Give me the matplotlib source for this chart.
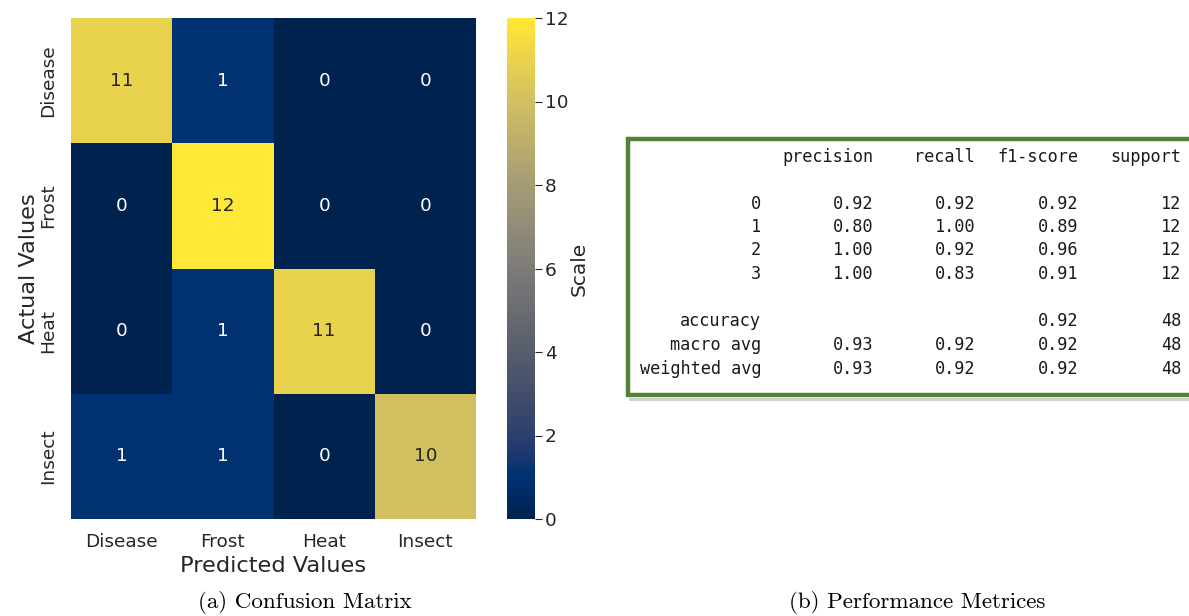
import numpy as np
import matplotlib
matplotlib.use("Agg")
import matplotlib.pyplot as plt
from matplotlib.patches import Rectangle

# Confusion matrix (rows: actual, cols: predicted)
classes = ["Disease", "Frost", "Heat", "Insect"]
conf = np.array([
    [11, 1, 0, 0],
    [0, 12, 0, 0],
    [0, 1, 11, 0],
    [1, 1, 0, 10],
])

# Classification report
report_header = ["precision", "recall", "f1-score", "support"]
class_rows = ["0", "1", "2", "3"]
precision = ["0.92", "0.80", "1.00", "1.00"]
recall = ["0.92", "1.00", "0.92", "0.83"]
f1_score = ["0.92", "0.89", "0.96", "0.91"]
support = ["12", "12", "12", "12"]
summary_rows = ["accuracy", "macro avg", "weighted avg"]
summary_precision = ["", "0.93", "0.93"]
summary_recall = ["", "0.92", "0.92"]
summary_f1 = ["0.92", "0.92", "0.92"]
summary_support = ["48", "48", "48"]

W, H = 1189, 616
fig = plt.figure(figsize=(W / 100, H / 100), dpi=100)
fig.patch.set_facecolor("white")

def px_axes(x0, y0, x1, y1):
    return fig.add_axes([x0 / W, 1 - y1 / H, (x1 - x0) / W, (y1 - y0) / H])

text_col = "#262626"
tick_fs = 13.3

# ---- heatmap ----
ax = px_axes(71, 18, 476, 519)
cax = px_axes(507, 18, 535, 519)
vmin, vmax = 0, 12
mesh = ax.pcolormesh(conf, cmap="cividis", vmin=vmin, vmax=vmax)
ax.set_xlim(0, 4)
ax.set_ylim(4, 0)
cmap = plt.get_cmap("cividis")
for i in range(conf.shape[0]):
    for j in range(conf.shape[1]):
        v = conf[i, j]
        r, g, b, _ = cmap((v - vmin) / (vmax - vmin))
        lum = 0.2126 * r + 0.7152 * g + 0.0722 * b
        ax.text(j + 0.5, i + 0.5, str(v), ha="center", va="center",
                fontsize=tick_fs, color=text_col if lum > 0.408 else "white")
ax.set_xticks(np.arange(4) + 0.5)
ax.set_yticks(np.arange(4) + 0.5)
ax.set_xticklabels(classes, fontsize=tick_fs, color=text_col)
ax.set_yticklabels(classes, fontsize=tick_fs, color=text_col, rotation=90, va="center")
ax.tick_params(axis="x", length=0, pad=10)
ax.tick_params(axis="y", length=0, pad=10)
for s in ax.spines.values():
    s.set_visible(False)
ax.set_xlabel("Predicted Values", fontsize=16.2, color=text_col, labelpad=4)
ax.set_ylabel("Actual Values", fontsize=16.2, color=text_col, labelpad=0)

cb = fig.colorbar(mesh, cax=cax)
cb.outline.set_visible(False)
cb.set_ticks([0, 2, 4, 6, 8, 10, 12])
cax.tick_params(labelsize=tick_fs, colors=text_col, length=5, width=0.8, pad=2)
for t in cax.get_yticklabels():
    t.set_color(text_col)
cb.set_label("Scale", fontsize=14.5, color=text_col, labelpad=1)

# ---- classification report box ----
rax = fig.add_axes([0, 0, 1, 1])
rax.set_xlim(0, W)
rax.set_ylim(H, 0)
rax.axis("off")
rax.add_patch(Rectangle((629, 398), 600, 3, facecolor="#d0d0d0", edgecolor="none", zorder=1))
rax.add_patch(Rectangle((628, 139), 600, 256, facecolor="white",
                        edgecolor="#548235", linewidth=3.2, zorder=2))

mono = dict(family="DejaVu Sans Mono", fontsize=12.2, color="#1a1a1a",
            ha="right", va="baseline", zorder=3)
base = 5  # offset from row centre to text baseline
col_x = [873, 975, 1078, 1181]
label_x = 761
for x, h in zip(col_x, report_header):
    rax.text(x, 157 + base, h, **mono)
row_y = [204, 227, 250, 274]
for y, name, p, r, f, s in zip(row_y, class_rows, precision, recall, f1_score, support):
    for x, v in zip([label_x] + col_x, [name, p, r, f, s]):
        rax.text(x, y + base, v, **mono)
sum_y = [321, 345, 369]
for y, name, p, r, f, s in zip(sum_y, summary_rows, summary_precision,
                               summary_recall, summary_f1, summary_support):
    for x, v in zip([label_x] + col_x, [name, p, r, f, s]):
        if v:
            rax.text(x, y + base, v, **mono)

# ---- captions ----
cap = dict(family="cmr10", fontsize=16.6, color="black", ha="center", va="center")
rax.text(305, 603, "(a) Confusion Matrix", **cap)
rax.text(917, 603, "(b) Performance Metrices", **cap)

fig.savefig("out.png", dpi=100)
